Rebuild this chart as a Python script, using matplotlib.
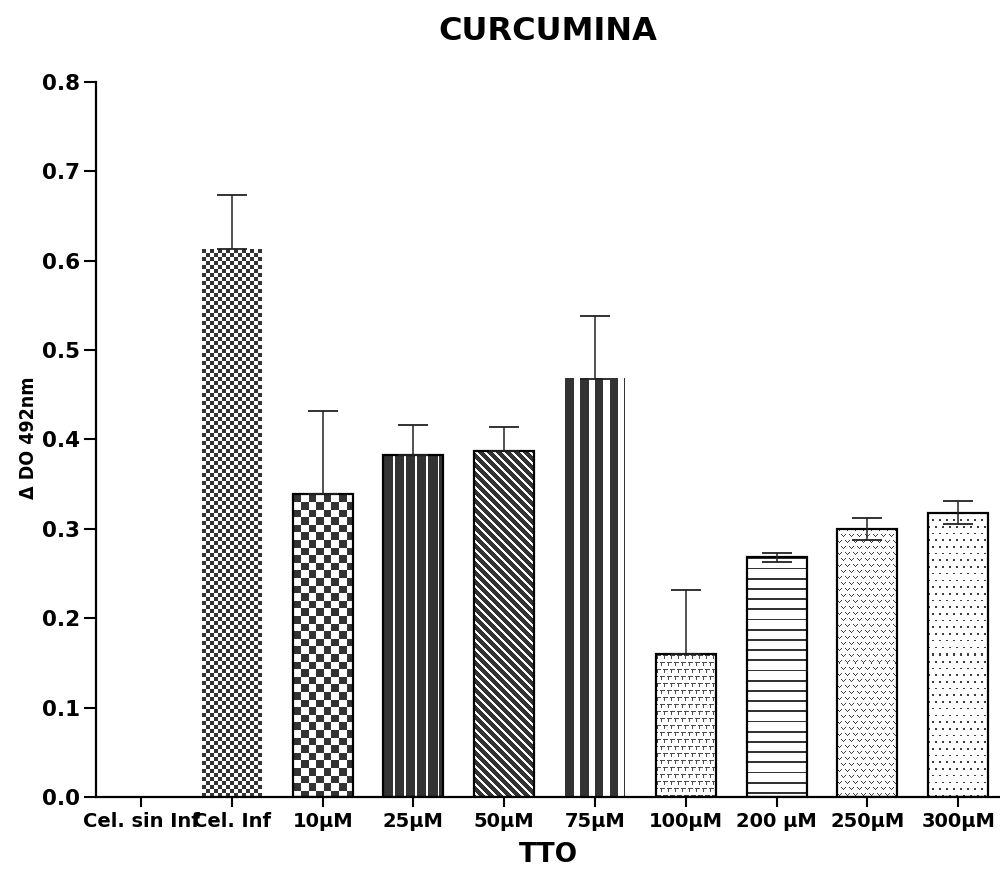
import numpy as np
import matplotlib
matplotlib.use("Agg")
import matplotlib.pyplot as plt

# ---- data ----
categories = ["Cel. sin Inf", "Cel. Inf", "10μM", "25μM", "50μM", "75μM",
              "100μM", "200 μM", "250μM", "300μM"]
means = [0.0, 0.613, 0.339, 0.383, 0.387, 0.468, 0.160, 0.268, 0.300, 0.318]
err_upper = [0.0, 0.060, 0.093, 0.033, 0.027, 0.070, 0.072, 0.0055, 0.012, 0.013]
err_lower = [0.0, 0.0, 0.0, 0.0, 0.0, 0.0, 0.0, 0.0055, 0.012, 0.013]
patterns = [None, "checker_small", "checker_big", "vlines", "diag", "stripes",
            "lshape", "hlines", "vees", "dots"]
outlined = [False, False, True, True, True, False, True, True, True, True]

DARK = 0.2

def make_pattern(kind, h, w):
    r, c = np.indices((h, w)).astype(float)
    img = np.ones((h, w))
    if kind == "checker_small":
        m = ((np.floor(r / 4) + np.floor(c / 4)) % 2) == 0
        img[m] = DARK
    elif kind == "checker_big":
        m = ((np.floor(r / 7.6) + np.floor(c / 7.6)) % 2) == 0
        img[m] = DARK
    elif kind == "vlines":
        img[:] = DARK
        m = (c % 11.2) >= 9.4
        img[m] = 1.0
    elif kind == "diag":
        img[:] = DARK
        m = ((c - r) % 9.0) < 2.6
        img[m] = 1.0
    elif kind == "stripes":
        m = (c % 14.7) < 8.6
        img[m] = DARK
    elif kind == "lshape":
        rr = r % 7
        cc = (c + 3 * (np.floor(r / 7) % 2)) % 7
        m = ((rr == 1) & (cc < 5)) | ((cc == 1) & (rr >= 1) & (rr < 5))
        img[m] = 0.3
    elif kind == "hlines":
        m = (r % 10.2) < 1.8
        img[m] = DARK
    elif kind == "vees":
        rr = r % 6
        cc = (c + 4 * (np.floor(r / 6) % 2)) % 8
        m = ((rr == 0) & ((cc == 0) | (cc == 4))) | \
            ((rr == 1) & ((cc == 1) | (cc == 3))) | \
            ((rr == 2) & (cc == 2))
        img[m] = 0.25
    elif kind == "dots":
        rr = r % 6.7
        cc = (c + 3.5 * (np.floor(r / 6.7) % 2)) % 7
        m = (rr < 1.6) & (cc < 1.6)
        img[m] = 0.25
    return np.dstack([img, img, img])

fig = plt.figure(figsize=(10, 8.76), dpi=100)
ax = fig.add_axes([0.096, 0.0902, 0.904, 0.8162])

x = np.arange(len(categories))
XLIM = (-0.496, 9.46)
YLIM = (0.0, 0.8)
ax.set_xlim(*XLIM)
ax.set_ylim(*YLIM)

bars = ax.bar(x, means, width=0.66, color="none", linewidth=0, zorder=2)

# fill each bar with its pattern image
for patch, kind, outl, v in zip(bars.patches, patterns, outlined, means):
    if kind is None or v <= 0:
        continue
    x0 = patch.get_x()
    x1 = x0 + patch.get_width()
    y0 = patch.get_y()
    y1 = y0 + patch.get_height()
    (px0, py0), (px1, py1) = ax.transData.transform([(x0, y0), (x1, y1)])
    w = max(int(round(px1 - px0)), 1)
    h = max(int(round(py1 - py0)), 1)
    img = make_pattern(kind, h, w)
    ax.imshow(img, extent=(x0, x1, y0, y1), origin="upper", aspect="auto",
              interpolation="nearest", zorder=1)
    if outl:
        patch.set_edgecolor("black")
        patch.set_linewidth(1.6)

ax.set_xlim(*XLIM)
ax.set_ylim(*YLIM)
ax.set_aspect("auto")

# error bars
for xi, m, lo, up in zip(x, means, err_lower, err_upper):
    if up <= 0:
        continue
    ax.errorbar([xi], [m], yerr=[[lo], [up]], fmt="none", ecolor="#222222",
                elinewidth=1.1, capsize=11, capthick=1.3, zorder=3)

# axes styling
for s in ("top", "right"):
    ax.spines[s].set_visible(False)
for s in ("left", "bottom"):
    ax.spines[s].set_linewidth(1.6)
ax.set_yticks(np.arange(0, 0.81, 0.1))
ax.set_yticklabels([f"{t:.1f}" for t in np.arange(0, 0.81, 0.1)],
                   fontsize=15.5, fontweight="bold", family="DejaVu Sans")
ax.set_xticks(x)
ax.set_xticklabels(categories, fontsize=14, fontweight="bold", family="DejaVu Sans")
ax.tick_params(axis="y", length=8.5, width=1.5, pad=3, direction="out")
ax.tick_params(axis="x", length=7.5, width=1.5, pad=3, direction="out")

fig.text(0.548, 1 - 32 / 876, "CURCUMINA", ha="center", va="center",
         fontsize=23, fontweight="bold", family="DejaVu Sans")
fig.text(0.548, 1 - 855 / 876, "TTO", ha="center", va="center",
         fontsize=19, fontweight="bold", family="DejaVu Sans")
fig.text(29 / 1000, 1 - 438 / 876, "Δ DO 492nm", ha="center", va="center",
         rotation=90, fontsize=14, fontweight="bold", family="DejaVu Sans",
         fontstretch="condensed")

fig.savefig("out.png", dpi=100)
